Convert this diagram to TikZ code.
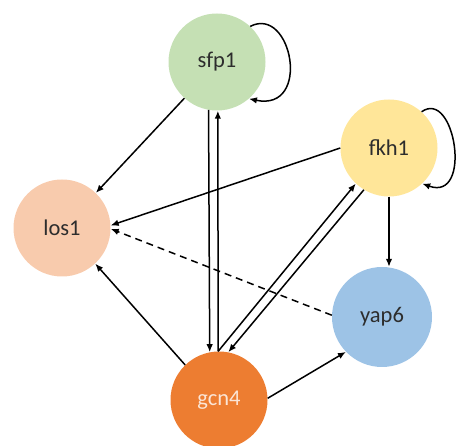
\documentclass[tikz,border=0pt]{standalone}
\usepackage{fontspec}
\setmainfont{Carlito}
\usetikzlibrary{arrows.meta}
\definecolor{cgreen}{RGB}{197,224,180}
\definecolor{cpeach}{RGB}{248,203,173}
\definecolor{cyellow}{RGB}{255,230,153}
\definecolor{cblue}{RGB}{157,195,230}
\definecolor{corange}{RGB}{237,125,49}
\definecolor{ctext}{RGB}{45,45,45}
\definecolor{clight}{RGB}{251,229,214}
\begin{document}
\begin{tikzpicture}[x=1pt,y=-1pt,
  gene/.style={circle,minimum size=97pt,inner sep=0pt,font=\fontsize{22.5}{26}\selectfont,text=ctext},
  arr/.style={line width=1.5pt,-{Latex[length=8pt,width=6.5pt]}}]
\useasboundingbox (0,0) rectangle (459,446);
\node[gene,fill=cgreen] (sfp1) at (217,62) {sfp1};
\node[gene,fill=cyellow] (fkh1) at (389,148) {fkh1};
\node[gene,fill=cpeach] (los1) at (62,228) {los1};
\node[gene,fill=cblue,minimum size=100pt] (yap6) at (382,317) {yap6};
\node[gene,fill=corange,text=clight] (gcn4) at (219,400) {gcn4};
% self loops
\draw[arr] (sfp1.47) .. controls (292,5) and (312,112) .. (sfp1.-49);
\draw[arr] (fkh1.48) .. controls (455,88) and (473,202) .. (fkh1.-47);
% edges to los1
\draw[arr] (sfp1.228) -- (los1.46);
\draw[arr] (fkh1.180) -- (los1.3);
\draw[arr,dashed,dash pattern=on 7pt off 5pt] (yap6.178) -- (los1.-1);
\draw[arr] (gcn4.134) -- (los1.-47);
% sfp1 <-> gcn4
\draw[arr] (sfp1.260) -- (gcn4.101);
\draw[arr] (gcn4.91) -- (sfp1.271);
% gcn4 <-> fkh1
\draw[arr] (gcn4.91) -- (fkh1.227);
\draw[arr] (fkh1.239) -- (gcn4.79);
% to yap6
\draw[arr] (gcn4.2) -- (yap6.224);
\draw[arr] (fkh1.south) -- (fkh1.south |- yap6.north);
\end{tikzpicture}
\end{document}
